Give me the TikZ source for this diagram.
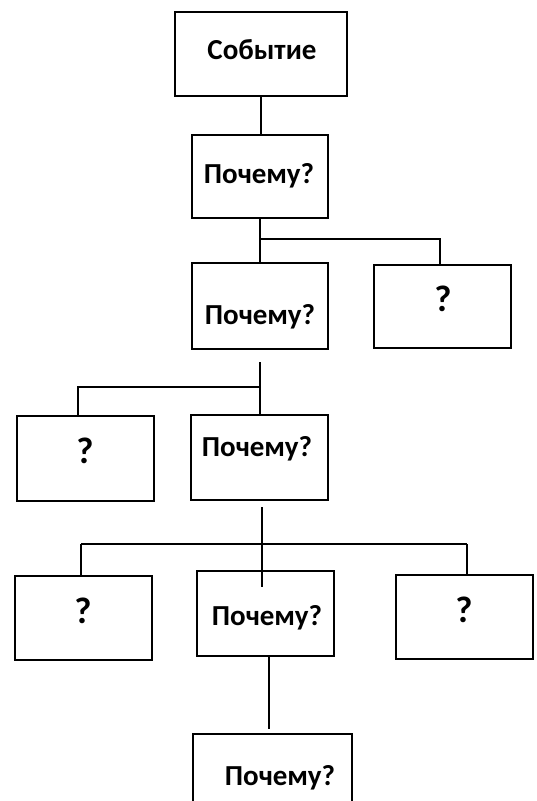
\documentclass[tikz,border=0pt]{standalone}
\usepackage{fontspec}
\setmainfont{Carlito}
\begin{document}
\begin{tikzpicture}[x=1pt,y=-1pt,
  box/.style={draw,line width=1.6pt,inner sep=0pt,outer sep=0pt},
  lbl/.style={font=\fontsize{29}{34}\selectfont\bfseries,anchor=base,inner sep=0pt},
  qlbl/.style={font=\fontsize{37}{44}\selectfont\bfseries,anchor=base,inner sep=0pt},
  conn/.style={line width=1.6pt}]
\useasboundingbox (0,0) rectangle (537,801);
% boxes
\node[box,minimum width=172pt,minimum height=84pt] (b1) at (261,54) {};
\node[box,minimum width=136pt,minimum height=83pt] (b2) at (260,176.5) {};
\node[box,minimum width=136pt,minimum height=86pt] (b3) at (260,306) {};
\node[box,minimum width=137pt,minimum height=83pt] (b4) at (442.5,306.5) {};
\node[box,minimum width=137pt,minimum height=85pt] (b5) at (85.5,458.5) {};
\node[box,minimum width=137pt,minimum height=85pt] (b6) at (259.5,457.5) {};
\node[box,minimum width=137pt,minimum height=84pt] (b7) at (83.5,618) {};
\node[box,minimum width=137pt,minimum height=85pt] (b8) at (265.5,613.5) {};
\node[box,minimum width=137pt,minimum height=84pt] (b9) at (464.5,617) {};
\node[box,minimum width=159pt,minimum height=86pt] (b10) at (272.5,777) {};
% texts
\node[lbl] (t1) at (262,59) {Событие};
\node[lbl] (t2) at (259,183) {Почему?};
\node[lbl] (t3) at (260,324) {Почему?};
\node[qlbl] (t4) at (443,311) {?};
\node[qlbl] (t5) at (85,463) {?};
\node[lbl] (t6) at (257,456) {Почему?};
\node[qlbl] (t7) at (83,623) {?};
\node[lbl] (t8) at (267,625) {Почему?};
\node[qlbl] (t9) at (464,622) {?};
\node[lbl] (t10) at (280,785) {Почему?};
% junction coordinates
\coordinate (j2) at (261,239);
\coordinate (j4) at (440,239);
\coordinate (j3) at (260,362);
\coordinate (j3h) at (260,387);
\coordinate (j5) at (78,387);
\coordinate (j6) at (262,507);
\coordinate (j6e) at (262,587);
\coordinate (j7) at (81,544);
\coordinate (j9) at (467,544);
\coordinate (j8) at (269,656);
\coordinate (j10) at (269,729);
% connectors
\draw[conn] (b1.south) -- (b1.south |- b2.north);
\draw[conn] (b2.south) -- (b2.south |- b3.north);
\draw[conn] (j2) -- (j4) -- (j4 |- b4.north);
\draw[conn] (j3) -- (j3 |- b6.north);
\draw[conn] (j3h) -- (j5) -- (j5 |- b5.north);
\draw[conn] (j6) -- (j6e);
\draw[conn] (j7) -- (j9);
\draw[conn] (j7) -- (j7 |- b7.north);
\draw[conn] (j9) -- (j9 |- b9.north);
\draw[conn] (j8 |- b8.south) -- (j10);
\end{tikzpicture}
\end{document}
